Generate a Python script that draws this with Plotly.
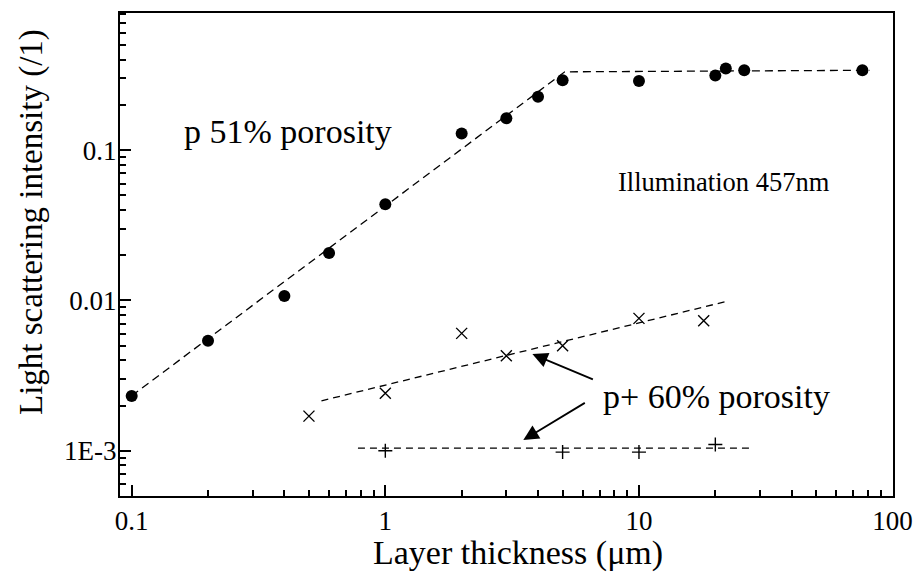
import math
import plotly.graph_objects as go

# p-type, 51% porosity (filled circles) and its piecewise fit
p51_x = [0.1, 0.2, 0.4, 0.6, 1, 2, 3, 4, 5, 10, 20, 22, 26, 76]
p51_y = [0.00231, 0.0054, 0.0107, 0.0207, 0.0437, 0.129, 0.163, 0.227,
         0.292, 0.289, 0.314, 0.35, 0.34, 0.34]
p51_fit_x = [0.1, 5.1, 81]
p51_fit_y = [0.00232, 0.332, 0.34]

# p+ type, 60% porosity, first sample set (x markers) and fit
p60a_x = [0.5, 1, 2, 3, 5, 10, 18]
p60a_y = [0.0017, 0.00241, 0.00604, 0.00428, 0.0050, 0.0076, 0.00733]
p60a_fit_x = [0.56, 22.7]
p60a_fit_y = [0.00215, 0.00996]

# p+ type, 60% porosity, second sample set (+ markers) and fit
p60b_x = [1, 5, 10, 20]
p60b_y = [0.001, 0.00098, 0.00098, 0.0011]
p60b_fit_x = [0.78, 28.4]
p60b_fit_y = [0.00104, 0.00104]

# axis tick labels
x_tickvals = [0.1, 1, 10, 100]
x_ticktext = ["0.1", "1", "10", "100"]
y_tickvals = [0.001, 0.01, 0.1]
y_ticktext = ["1E-3", "0.01", "0.1"]

FONT = "Liberation Serif"
minor_vals = [m * 10.0 ** e for e in range(-4, 3) for m in range(2, 10)]

fig = go.Figure()

fig.add_trace(go.Scatter(x=p51_fit_x, y=p51_fit_y, mode="lines",
                         line=dict(color="black", width=1.3, dash="8px,5px")))
fig.add_trace(go.Scatter(x=p60a_fit_x, y=p60a_fit_y, mode="lines",
                         line=dict(color="black", width=1.3, dash="7px,5px")))
fig.add_trace(go.Scatter(x=p60b_fit_x, y=p60b_fit_y, mode="lines",
                         line=dict(color="black", width=1.3, dash="7px,5px")))

fig.add_trace(go.Scatter(x=p51_x, y=p51_y, mode="markers",
                         marker=dict(symbol="circle", size=12, color="black")))
fig.add_trace(go.Scatter(x=p60a_x, y=p60a_y, mode="markers",
                         marker=dict(symbol="x-thin", size=11,
                                     line=dict(color="black", width=1.4))))
fig.add_trace(go.Scatter(x=p60b_x, y=p60b_y, mode="markers",
                         marker=dict(symbol="cross-thin", size=10,
                                     line=dict(color="black", width=1.4))))

axis_common = dict(
    type="log", showgrid=False, zeroline=False, showline=True,
    linecolor="black", linewidth=2, mirror=True, automargin=False,
    ticks="inside", ticklen=11, tickwidth=2, tickcolor="black",
    tickfont=dict(family=FONT, size=27, color="black"),
    ticklabeloverflow="allow",
    minor=dict(tickmode="array", tickvals=minor_vals, ticks="inside",
               ticklen=6, tickwidth=1.5, tickcolor="black"),
)

fig.update_xaxes(range=[-1.046, 2.0015], tickmode="array", tickvals=x_tickvals,
                 ticktext=x_ticktext, **axis_common)
fig.update_yaxes(range=[-3.301, -0.0874], tickmode="array", tickvals=y_tickvals,
                 ticktext=y_ticktext, ticklabelstandoff=-4, **axis_common)


def text_note(label, px, py, size):
    return dict(text=label, xref="paper", yref="paper",
                x=(px - 120) / 773, y=(496 - py) / 483,
                xanchor="center", yanchor="middle", showarrow=False,
                font=dict(family=FONT, size=size, color="black"))


annotations = [
    text_note("p 51% porosity", 288, 131, 34),
    text_note("Illumination 457nm", 724, 182, 26.5),
    text_note("p+ 60% porosity", 716, 396, 34),
    text_note("Layer thickness (\u03bcm)", 518, 553, 34),
    dict(text="Light scattering intensity (/1)", xref="paper", yref="paper",
         x=(31 - 120) / 773, y=(496 - 222) / 483, xanchor="center",
         yanchor="middle", showarrow=False, textangle=-90,
         font=dict(family=FONT, size=33, color="black")),
]

# arrows pointing from the p+ label to the two fits
for head_x, head_y, dx, dy in [(3.80, 0.0044, 62, 26), (3.50, 0.00118, 63, -38)]:
    annotations.append(dict(
        x=math.log10(head_x), y=math.log10(head_y), xref="x", yref="y",
        ax=dx, ay=dy, text="", showarrow=True, arrowhead=2,
        arrowsize=1.7, arrowwidth=1.8, arrowcolor="black", standoff=0,
    ))

fig.update_layout(
    width=913, height=573,
    margin=dict(l=120, r=20, t=13, b=77),
    paper_bgcolor="white", plot_bgcolor="white",
    showlegend=False,
    annotations=annotations,
)

fig.write_html("out.html")
